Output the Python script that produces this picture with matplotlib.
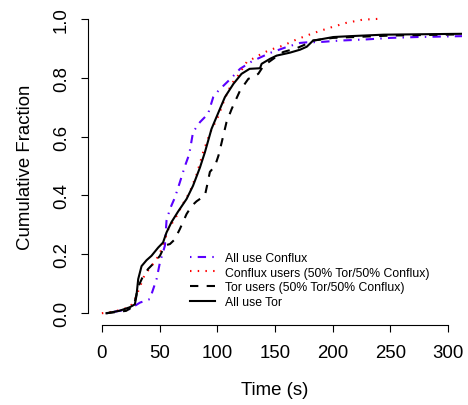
import matplotlib
matplotlib.use("Agg")
import matplotlib.pyplot as plt

plt.rcParams['font.family'] = ['Liberation Sans', 'DejaVu Sans']

# All use Conflux (blue dot-dash)
conflux_t = [4, 15, 24, 33, 41.6, 47.4, 50.3, 54.6, 56, 59, 63.3, 67.6, 72, 75.7,
             79, 85, 92, 96.5, 101, 112.5, 119.7, 129.8, 145.7, 160, 171.7, 177.5,
             189, 206.4, 229.5, 249.7, 273, 312]
conflux_f = [0.0, 0.008, 0.014, 0.036, 0.048, 0.116, 0.172, 0.229, 0.314, 0.354,
             0.393, 0.445, 0.50, 0.54, 0.615, 0.649, 0.677, 0.734, 0.756, 0.80,
             0.83, 0.855, 0.884, 0.904, 0.918, 0.92, 0.921, 0.926, 0.93, 0.935,
             0.938, 0.941]

# Conflux users (50% Tor/50% Conflux) (red dotted)
mixc_t = [0, 10, 24, 28, 30, 32, 37, 43, 50, 54.6, 57.5, 64.7, 70, 76, 82, 88, 94,
          101, 106.6, 112.5, 116.8, 125.5, 137, 144.2, 150, 157, 168.8, 183, 197,
          211.6, 226, 241]
mixc_f = [0.0, 0.005, 0.02, 0.04, 0.06, 0.08, 0.13, 0.16, 0.2, 0.25, 0.285, 0.33,
          0.37, 0.41, 0.47, 0.55, 0.615, 0.67, 0.73, 0.78, 0.80, 0.853, 0.878,
          0.892, 0.90, 0.909, 0.93, 0.951, 0.969, 0.986, 0.997, 1.0]

# Tor users (50% Tor/50% Conflux) (black dashed)
mixt_t = [4, 21, 26, 28.6, 31.5, 35, 40, 45, 50.3, 54.6, 59, 63, 67.6, 73.4, 78,
          82, 89.3, 91.5, 93.6, 98, 101, 103.8, 108, 112.5, 119.7, 126.9, 132,
          135.5, 140, 148.5, 157, 168.8, 177.5, 183, 200, 250, 312]
mixt_f = [0.0, 0.008, 0.02, 0.04, 0.09, 0.12, 0.15, 0.17, 0.195, 0.23, 0.235,
          0.25, 0.286, 0.337, 0.365, 0.38, 0.40, 0.44, 0.48, 0.50, 0.535, 0.58,
          0.649, 0.694, 0.756, 0.796, 0.805, 0.813, 0.84, 0.864, 0.887, 0.90,
          0.915, 0.926, 0.935, 0.943, 0.947]

# All use Tor (black solid)
tor_t = [4, 15, 24, 28.6, 30, 31.5, 34.4, 38.7, 43, 48.8, 53, 56, 60.4, 66, 73.4,
         79, 85, 89.3, 95, 98, 102.3, 106.6, 114, 121, 128, 137, 138.4, 145.7,
         151.5, 163, 171.7, 177.5, 183, 192, 200.5, 215, 244, 312]
tor_f = [0.0, 0.008, 0.02, 0.03, 0.06, 0.116, 0.16, 0.18, 0.195, 0.223, 0.24,
         0.274, 0.31, 0.345, 0.388, 0.433, 0.495, 0.547, 0.626, 0.654, 0.694,
         0.734, 0.779, 0.813, 0.83, 0.832, 0.847, 0.864, 0.875, 0.885, 0.895,
         0.905, 0.926, 0.932, 0.938, 0.941, 0.946, 0.949]

labels = ["All use Conflux", "Conflux users (50% Tor/50% Conflux)",
          "Tor users (50% Tor/50% Conflux)", "All use Tor"]

fig = plt.figure(figsize=(4.68, 4.06), dpi=100)
W, H = 468, 406
ax = fig.add_axes([88 / W, (H - 326) / H, 374 / W, 318 / H])

lw = 1.5
ax.plot(conflux_t, conflux_f, color="#5a00ff", lw=lw, dashes=(0.7, 3, 4, 3),
        label=labels[0])
ax.plot(mixc_t, mixc_f, color="red", lw=lw, dashes=(0.7, 3), label=labels[1])
ax.plot(mixt_t, mixt_f, color="black", lw=lw, dashes=(4, 4), label=labels[2])
ax.plot(tor_t, tor_f, color="black", lw=lw, label=labels[3])

ax.set_xlim(-12, 312)
ax.set_ylim(-0.04, 1.04)

for s in ["top", "right"]:
    ax.spines[s].set_visible(False)
ax.spines["bottom"].set_bounds(0, 300)
ax.spines["left"].set_bounds(0, 1)
for s in ["bottom", "left"]:
    ax.spines[s].set_linewidth(0.8)

ax.set_xticks([0, 50, 100, 150, 200, 250, 300])
ax.set_yticks([0, 0.2, 0.4, 0.6, 0.8, 1.0])
ax.set_yticklabels(["0.0", "0.2", "0.4", "0.6", "0.8", "1.0"],
                   rotation=90, va="center")
ax.tick_params(axis="both", length=5, width=0.8, labelsize=13.4)
ax.tick_params(axis="x", pad=9)
ax.tick_params(axis="y", pad=8)

ax.set_xlabel("Time (s)", fontsize=13.4)
ax.set_ylabel("Cumulative Fraction", fontsize=13.4)
ax.xaxis.set_label_coords(0.5, -0.175)
ax.yaxis.set_label_coords(-0.145, 0.5)

ax.legend(loc="upper left", bbox_to_anchor=(190 / W, 1 - 253 / H),
          bbox_transform=fig.transFigure, frameon=False, fontsize=8.85,
          handlelength=2.05, handletextpad=0.8, labelspacing=0.22,
          borderpad=0, borderaxespad=0)

fig.savefig("out.png", dpi=100)
